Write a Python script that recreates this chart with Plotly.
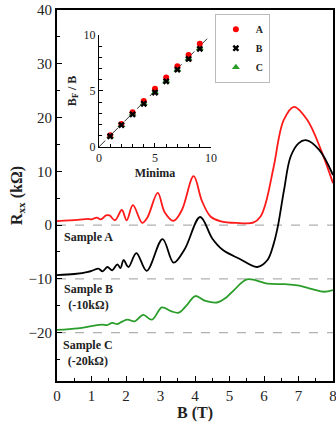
import plotly.graph_objects as go

# ---- main curves (B in T, Rxx in kOhm, with offsets already applied) ----
b_a = [0.0, 0.6, 0.9, 1.0, 1.15, 1.27, 1.42, 1.52, 1.68, 1.88, 2.02, 2.2, 2.47, 2.62,
       2.92, 3.12, 3.38, 3.62, 3.96, 4.2, 4.45, 4.75, 5.2, 5.7, 5.9, 6.05, 6.28, 6.57, 6.87, 7.26,
       7.65, 8.0]
r_a = [0.75, 0.95, 1.15, 1.05, 1.4, 1.05, 1.8, 1.8, 0.9, 2.8, 0.9, 3.7, 0.4, 1.4,
       6.0, 2.4, 0.8, 2.8, 9.1, 4.5, 1.6, 0.7, 0.4, 0.5, 1.6, 4.1, 10.8, 19.5, 22.0, 19.5,
       14.0, 7.8]

b_b = [0.0, 0.5, 0.9, 1.05, 1.2, 1.32, 1.46, 1.6, 1.75, 1.84, 1.93, 2.07, 2.3, 2.6, 3.06,
       3.38, 3.7, 4.15, 4.5, 4.8, 5.3, 5.8, 6.1, 6.28, 6.4, 6.58, 6.77, 7.0, 7.21, 7.6, 8.0]
r_b = [-9.3, -9.1, -8.7, -8.4, -8.1, -8.6, -7.8, -8.4, -7.3, -8.0, -6.5, -7.8, -5.2,
       -8.5, -2.6, -7.0, -4.5, 1.5, -2.5, -4.6, -6.3, -7.8, -6.5, -3.5, -0.3, 6.5, 12.7, 15.2,
       15.8, 14.0, 9.3]

b_c = [0.0, 0.6, 1.0, 1.3, 1.45, 1.6, 1.75, 1.9, 2.05, 2.25, 2.5, 2.75, 3.04, 3.3, 3.53,
       3.75, 4.01, 4.3, 4.64, 4.9, 5.13, 5.51, 6.1, 6.6, 6.97, 7.4, 7.74, 8.0]
r_c = [-19.5, -19.2, -18.8, -18.5, -18.6, -18.2, -18.4, -17.9, -17.6, -17.9, -16.7,
       -17.6, -15.3, -16.0, -16.3, -15.0, -13.2, -14.1, -14.4, -13.5, -12.1, -10.1, -10.9,
       -11.0, -11.2, -11.9, -12.4, -12.1]

offset_lines = [0, -10, -20]

# ---- inset: B_F / B versus minimum index ----
minima = [1, 2, 3, 4, 5, 6, 7, 8, 9]
ratio_a = [1.05, 2.05, 3.1, 4.1, 5.2, 6.2, 7.2, 8.2, 9.2]
ratio_b = [0.95, 1.95, 2.9, 3.85, 4.85, 5.85, 6.9, 7.85, 8.75]
ratio_c = [0.95, 1.95, 2.95, 3.9, 4.9, 5.9, 6.9, 7.9, 8.8]
fit_x = [0, 9.8]
fit_y = [0, 9.8]

SERIF = "Liberation Serif, Times New Roman, serif"
RED = "#ff1a1a"
GREEN = "#2a9d2a"

fig = go.Figure()

for y0 in offset_lines:
    fig.add_hline(y=y0, line=dict(color="#b0b0b0", width=1.3, dash="dash"), layer="below")

fig.add_trace(go.Scatter(x=b_a, y=r_a, mode="lines", line=dict(color=RED, width=1.8, shape="spline"),
                         showlegend=False))
fig.add_trace(go.Scatter(x=b_b, y=r_b, mode="lines", line=dict(color="black", width=1.8, shape="spline"),
                         showlegend=False))
fig.add_trace(go.Scatter(x=b_c, y=r_c, mode="lines", line=dict(color=GREEN, width=1.8, shape="spline"),
                         showlegend=False))

# inset
fig.add_trace(go.Scatter(x=fit_x, y=fit_y, mode="lines", line=dict(color="#333", width=1, dash="dash"),
                         xaxis="x2", yaxis="y2", showlegend=False))
fig.add_trace(go.Scatter(x=minima, y=ratio_c, mode="markers", name="<b>C</b>", legendrank=3,
                         marker=dict(symbol="triangle-up", size=7, color=GREEN),
                         xaxis="x2", yaxis="y2"))
fig.add_trace(go.Scatter(x=minima, y=ratio_a, mode="markers", name="<b>A</b>", legendrank=1,
                         marker=dict(symbol="circle", size=6, color="red"),
                         xaxis="x2", yaxis="y2"))
fig.add_trace(go.Scatter(x=minima, y=ratio_b, mode="markers", name="<b>B</b>", legendrank=2,
                         marker=dict(symbol="x", size=6, color="black"),
                         xaxis="x2", yaxis="y2"))

labels = [("Sample A", 0.9, -2.2), ("Sample B<br>(-10kΩ)", 0.9, -13.3), ("Sample C<br>(-20kΩ)", 0.9, -23.7)]
for txt, x, y in labels:
    fig.add_annotation(x=x, y=y, xref="x", yref="y", text="<b>" + txt + "</b>", showarrow=False,
                       align="center", font=dict(family=SERIF, size=12, color="#222"))

axis_common = dict(showgrid=False, zeroline=False, showline=True, linecolor="black",
                   ticks="inside", tickcolor="black", ticklabeloverflow="allow")

fig.update_layout(
    width=336, height=426,
    margin=dict(l=57, r=3, t=10, b=45, autoexpand=False),
    plot_bgcolor="white", paper_bgcolor="white",
    font=dict(family=SERIF, color="#222"),
    xaxis=dict(range=[0, 8], dtick=1, ticklen=5, linewidth=2, mirror=True,
               minor=dict(dtick=0.5, ticklen=3, ticks="inside", tickcolor="black"),
               tickfont=dict(size=15), title=dict(text="<b>B (T)</b>", font=dict(size=16), standoff=4),
               automargin=False, **axis_common),
    yaxis=dict(range=[-29, 40], dtick=10, ticklen=5, linewidth=2, mirror=True,
               minor=dict(dtick=5, ticklen=3, ticks="inside", tickcolor="black"),
               tickfont=dict(size=15), title=dict(text="<b>R<sub>xx</sub> (kΩ)</b>", font=dict(size=16), standoff=2),
               automargin=False, **axis_common),
    xaxis2=dict(domain=[0.152, 0.558], anchor="y2", range=[0, 10], dtick=5, ticklen=4, linewidth=1.3,
                minor=dict(dtick=1, ticklen=2.5, ticks="inside", tickcolor="black"),
                tickfont=dict(size=12), title=dict(text="<b>Minima</b>", font=dict(size=12), standoff=4),
                **axis_common),
    yaxis2=dict(domain=[0.631, 0.933], anchor="x2", range=[0, 10], dtick=5, ticklen=4, linewidth=1.3,
                minor=dict(dtick=1, ticklen=2.5, ticks="inside", tickcolor="black"),
                tickfont=dict(size=12), title=dict(text="<b>B<sub>F</sub> / B</b>", font=dict(size=12), standoff=4),
                **axis_common),
    legend=dict(x=0.572, y=0.99, xanchor="left", yanchor="top", bordercolor="#bbbbbb", borderwidth=1,
                bgcolor="white", font=dict(size=10), traceorder="normal", itemwidth=30,
                tracegroupgap=0),
)

# remove the browser's default 8px body margin so the figure fills the window exactly
fig.write_html("out.html", config={"displayModeBar": False},
               post_script="document.body.style.margin='0';document.body.style.overflow='hidden';")
